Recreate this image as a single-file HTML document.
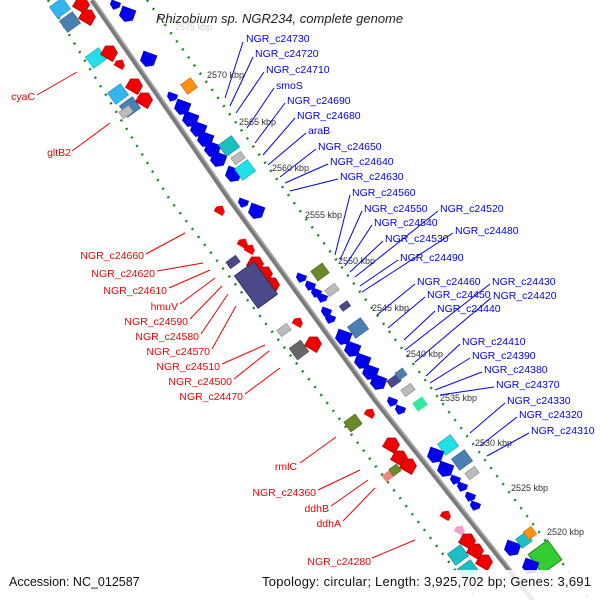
<!DOCTYPE html>
<html><head><meta charset="utf-8"><style>
html,body{margin:0;padding:0;background:#fff}
svg{display:block;font-family:"Liberation Sans","DejaVu Sans",sans-serif}
</style></head><body>
<svg width="600" height="600" viewBox="0 0 600 600" xmlns="http://www.w3.org/2000/svg">
<defs>
<polygon id="pb" points="-7,-7 3,-7 7,0 3,7 -7,7" fill="#0000ee" stroke="#0000aa" stroke-width="0.6"/>
<polygon id="pr" points="-7,-7 3,-7 7,0 3,7 -7,7" fill="#ee0000" stroke="#aa0000" stroke-width="0.6"/>
<polygon id="sb" points="-4,-5 1,-5 5,0 1,5 -4,5" fill="#0000ee"/>
<polygon id="sr" points="-4,-5 1,-5 5,0 1,5 -4,5" fill="#ee0000"/>
<rect id="rc" x="-8" y="-7" width="16" height="14" fill="#22e0e8" stroke="#11a0a8" stroke-width="0.6"/>
<rect id="rt" x="-8" y="-7" width="16" height="14" fill="#1cc0c4" stroke="#108088" stroke-width="0.6"/>
<rect id="rl" x="-8" y="-7" width="16" height="14" fill="#33b5ee" stroke="#2288bb" stroke-width="0.6"/>
<rect id="rs" x="-8" y="-7" width="16" height="14" fill="#4a80b4" stroke="#305a88" stroke-width="0.6"/>
<rect id="rg" x="-6" y="-4" width="12" height="8" fill="#bbbbbb" stroke="#888" stroke-width="0.6"/>
<rect id="rd" x="-7" y="-7" width="14" height="14" fill="#666" stroke="#444" stroke-width="0.6"/>
<rect id="ro" x="-6" y="-6" width="12" height="12" fill="#ff9010" stroke="#c06000" stroke-width="0.6"/>
<rect id="rv" x="-7" y="-6" width="14" height="12" fill="#6a8a2a" stroke="#445a18" stroke-width="0.6"/>
<rect id="rp" x="-6" y="-4" width="12" height="8" fill="#4a4a8a" stroke="#303060" stroke-width="0.6"/>
</defs>

<polyline points="48,0 170,200 325,400 478,600" fill="none" stroke="#1a8a1a" stroke-width="2.5" stroke-dasharray="2 8"/>
<polyline points="147,0 292,200 440,400 590,600" fill="none" stroke="#1a8a1a" stroke-width="2.5" stroke-dasharray="2 8"/>
<polyline points="92,0 230,200 375,400 533,600" fill="none" stroke="#7a7a7a" stroke-width="5"/>
<polyline points="94,0 232,200 377,400 535,600" fill="none" stroke="#b0b0b0" stroke-width="1.2"/>

<g>
<use href="#rl" transform="translate(60,8) rotate(-36)"/>
<use href="#rs" transform="translate(70,22) rotate(-36)"/>
<use href="#pr" transform="translate(82,4) rotate(-60)"/>
<use href="#pr" transform="translate(88,16) rotate(-60)"/>
<use href="#rc" transform="translate(96,58) rotate(-36)"/>
<use href="#pr" transform="translate(110,52) rotate(-60)"/>
<use href="#sr" transform="translate(120,64) rotate(-60)"/>
<use href="#rl" transform="translate(118,94) rotate(-36)"/>
<use href="#rs" transform="translate(130,107) rotate(-36)"/>
<use href="#rg" transform="translate(126,112) rotate(-36)"/>
<use href="#pr" transform="translate(135,85) rotate(-60)"/>
<use href="#pr" transform="translate(145,99) rotate(-60)"/>
<use href="#sr" transform="translate(220,210) rotate(-60)"/>
<use href="#sr" transform="translate(243,243) rotate(-60)"/>
<use href="#sr" transform="translate(250,249) rotate(-60)"/>
<use href="#pr" transform="translate(256,263) rotate(-60)"/>
<use href="#pr" transform="translate(265,273) rotate(-60)"/>
<use href="#pr" transform="translate(272,284) rotate(-60)"/>
<use href="#rp" transform="translate(233,262) rotate(-36)"/>
<rect x="-12" y="-20" width="24" height="40" fill="#4a4a8a" stroke="#303060" transform="translate(256,285) rotate(-36)"/>
<use href="#rg" transform="translate(284,330) rotate(-36)"/>
<use href="#sr" transform="translate(298,322) rotate(-60)"/>
<use href="#rd" transform="translate(299,350) rotate(-36)"/>
<use href="#pr" transform="translate(314,343) rotate(-60)"/>
<use href="#rv" transform="translate(353,423) rotate(-36)"/>
<use href="#sr" transform="translate(370,413) rotate(-60)"/>
<use href="#pr" transform="translate(392,444) rotate(-60)"/>
<use href="#pr" transform="translate(400,457) rotate(-60)"/>
<use href="#pr" transform="translate(409,465) rotate(-60)"/>
<rect x="-5" y="-4" width="10" height="8" fill="#ee8888" transform="translate(388,476) rotate(-36)"/>
<use href="#rv" transform="translate(395,470) rotate(-36) scale(0.7)"/>
<use href="#sr" transform="translate(446,515) rotate(-60)"/>
<polygon points="-4,-5 1,-5 5,0 1,5 -4,5" fill="#f0a0c8" transform="translate(460,530) rotate(-60)"/>
<use href="#pr" transform="translate(468,540) rotate(-60)"/>
<use href="#pr" transform="translate(476,550) rotate(-60)"/>
<use href="#pr" transform="translate(485,561) rotate(-60)"/>
<use href="#rt" transform="translate(458,555) rotate(-36)"/>
<use href="#rt" transform="translate(468,570) rotate(-36)"/>
</g>

<g>
<use href="#sb" transform="translate(115,5) rotate(110)"/>
<use href="#pb" transform="translate(127,15) rotate(110)"/>
<use href="#pb" transform="translate(148,60) rotate(110)"/>
<use href="#ro" transform="translate(189,86) rotate(-36)"/>
<use href="#sb" transform="translate(172,97) rotate(110)"/>
<use href="#pb" transform="translate(182,108) rotate(110)"/>
<use href="#pb" transform="translate(190,120) rotate(110)"/>
<use href="#pb" transform="translate(198,130) rotate(110)"/>
<use href="#pb" transform="translate(205,140) rotate(110)"/>
<use href="#pb" transform="translate(212,150) rotate(110)"/>
<use href="#pb" transform="translate(218,160) rotate(110)"/>
<use href="#pb" transform="translate(233,175) rotate(110)"/>
<use href="#rt" transform="translate(229,146) rotate(-36)"/>
<use href="#rg" transform="translate(238,158) rotate(-36)"/>
<use href="#rc" transform="translate(245,170) rotate(-36)"/>
<use href="#sb" transform="translate(243,203) rotate(110)"/>
<use href="#pb" transform="translate(256,212) rotate(110)"/>
<use href="#rv" transform="translate(320,272) rotate(-36)"/>
<use href="#sb" transform="translate(301,278) rotate(110)"/>
<use href="#sb" transform="translate(310,286) rotate(110)"/>
<use href="#sb" transform="translate(316,293) rotate(110)"/>
<use href="#sb" transform="translate(322,298) rotate(110)"/>
<use href="#rg" transform="translate(332,290) rotate(-36)"/>
<use href="#rp" transform="translate(345,306) rotate(-36) scale(0.8)"/>
<use href="#sb" transform="translate(326,312) rotate(110)"/>
<use href="#sb" transform="translate(330,319) rotate(110)"/>
<use href="#rs" transform="translate(358,328) rotate(-36)"/>
<use href="#pb" transform="translate(343,338) rotate(110)"/>
<use href="#pb" transform="translate(352,350) rotate(110)"/>
<use href="#pb" transform="translate(362,362) rotate(110)"/>
<use href="#pb" transform="translate(370,373) rotate(110)"/>
<use href="#pb" transform="translate(378,383) rotate(110)"/>
<use href="#rp" transform="translate(394,381) rotate(-36)"/>
<use href="#rs" transform="translate(401,374) rotate(-36) scale(0.6)"/>
<use href="#rg" transform="translate(408,390) rotate(-36)"/>
<use href="#sb" transform="translate(392,402) rotate(110)"/>
<use href="#sb" transform="translate(400,410) rotate(110)"/>
<rect x="-6" y="-5" width="12" height="10" fill="#30e8a0" transform="translate(420,404) rotate(-36)"/>
<use href="#rc" transform="translate(448,445) rotate(-36)"/>
<use href="#rs" transform="translate(462,460) rotate(-36)"/>
<use href="#pb" transform="translate(435,456) rotate(110)"/>
<use href="#pb" transform="translate(445,470) rotate(110)"/>
<use href="#sb" transform="translate(455,480) rotate(110)"/>
<use href="#sb" transform="translate(462,487) rotate(110)"/>
<use href="#sb" transform="translate(470,497) rotate(110)"/>
<use href="#sb" transform="translate(475,506) rotate(110)"/>
<use href="#rg" transform="translate(472,473) rotate(-36)"/>
<use href="#pb" transform="translate(512,549) rotate(110)"/>
<use href="#rt" transform="translate(524,540) rotate(-36) scale(0.8)"/>
<use href="#ro" transform="translate(530,533) rotate(-36) scale(0.8)"/>
<rect x="-12" y="-12" width="24" height="24" fill="#33cc33" stroke="#1a8a1a" transform="translate(545,557) rotate(-36)"/>
<use href="#pb" transform="translate(530,567) rotate(110)"/>
</g>

<rect x="0" y="570" width="600" height="30" fill="#fff" opacity="0.85"/>

<g font-size="9" fill="#333">
<text x="175" y="30" fill="#ccc">2575 kbp</text>
<text x="207" y="78">2570 kbp</text>
<text x="239" y="125">2565 kbp</text>
<text x="272" y="171">2560 kbp</text>
<text x="305" y="218">2555 kbp</text>
<text x="338" y="264">2550 kbp</text>
<text x="372" y="311">2545 kbp</text>
<text x="406" y="357">2540 kbp</text>
<text x="440" y="401">2535 kbp</text>
<text x="475" y="446">2530 kbp</text>
<text x="511" y="491">2525 kbp</text>
<text x="547" y="535">2520 kbp</text>
</g>

<g stroke="#0000ee" stroke-width="1">
<line x1="243" y1="42" x2="225" y2="98"/>
<line x1="253" y1="57" x2="230" y2="106"/>
<line x1="264" y1="72" x2="236" y2="113"/>
<line x1="274" y1="88" x2="247" y2="128"/>
<line x1="285" y1="103" x2="255" y2="143"/>
<line x1="295" y1="118" x2="263" y2="155"/>
<line x1="306" y1="133" x2="268" y2="165"/>
<line x1="316" y1="149" x2="280" y2="177"/>
<line x1="328" y1="164" x2="285" y2="183"/>
<line x1="338" y1="179" x2="290" y2="191"/>
<line x1="350" y1="195" x2="335" y2="255"/>
<line x1="362" y1="211" x2="340" y2="260"/>
<line x1="372" y1="225" x2="345" y2="266"/>
<line x1="383" y1="241" x2="350" y2="272"/>
<line x1="438" y1="211" x2="355" y2="277"/>
<line x1="453" y1="233" x2="362" y2="292"/>
<line x1="398" y1="260" x2="360" y2="286"/>
<line x1="415" y1="284" x2="377" y2="315"/>
<line x1="425" y1="297" x2="388" y2="328"/>
<line x1="435" y1="311" x2="404" y2="340"/>
<line x1="490" y1="284" x2="405" y2="350"/>
<line x1="491" y1="298" x2="415" y2="362"/>
<line x1="460" y1="344" x2="426" y2="376"/>
<line x1="470" y1="358" x2="430" y2="383"/>
<line x1="482" y1="372" x2="435" y2="390"/>
<line x1="494" y1="387" x2="440" y2="395"/>
<line x1="505" y1="403" x2="470" y2="433"/>
<line x1="517" y1="417" x2="480" y2="446"/>
<line x1="529" y1="433" x2="487" y2="456"/>
</g>
<g font-size="10.5" fill="#0000ee">
<text x="246" y="42">NGR_c24730</text>
<text x="255" y="57">NGR_c24720</text>
<text x="266" y="73">NGR_c24710</text>
<text x="276" y="89">smoS</text>
<text x="287" y="104">NGR_c24690</text>
<text x="297" y="119">NGR_c24680</text>
<text x="308" y="134">araB</text>
<text x="318" y="150">NGR_c24650</text>
<text x="330" y="165">NGR_c24640</text>
<text x="340" y="180">NGR_c24630</text>
<text x="352" y="196">NGR_c24560</text>
<text x="364" y="212">NGR_c24550</text>
<text x="374" y="226">NGR_c24540</text>
<text x="440" y="212">NGR_c24520</text>
<text x="385" y="242">NGR_c24530</text>
<text x="455" y="234">NGR_c24480</text>
<text x="400" y="261">NGR_c24490</text>
<text x="417" y="285">NGR_c24460</text>
<text x="492" y="285">NGR_c24430</text>
<text x="427" y="298">NGR_c24450</text>
<text x="493" y="299">NGR_c24420</text>
<text x="437" y="312">NGR_c24440</text>
<text x="462" y="345">NGR_c24410</text>
<text x="472" y="359">NGR_c24390</text>
<text x="484" y="373">NGR_c24380</text>
<text x="496" y="388">NGR_c24370</text>
<text x="507" y="404">NGR_c24330</text>
<text x="519" y="418">NGR_c24320</text>
<text x="531" y="434">NGR_c24310</text>
</g>

<g stroke="#ee0000" stroke-width="1">
<line x1="37" y1="95" x2="77" y2="72"/>
<line x1="72" y1="151" x2="110" y2="123"/>
<line x1="146" y1="254" x2="185" y2="233"/>
<line x1="157" y1="271" x2="203" y2="263"/>
<line x1="169" y1="288" x2="210" y2="270"/>
<line x1="180" y1="304" x2="215" y2="278"/>
<line x1="190" y1="319" x2="222" y2="286"/>
<line x1="201" y1="334" x2="228" y2="294"/>
<line x1="212" y1="349" x2="236" y2="306"/>
<line x1="222" y1="364" x2="265" y2="345"/>
<line x1="234" y1="379" x2="269" y2="351"/>
<line x1="245" y1="394" x2="280" y2="368"/>
<line x1="300" y1="463" x2="336" y2="437"/>
<line x1="318" y1="490" x2="360" y2="470"/>
<line x1="331" y1="506" x2="368" y2="480"/>
<line x1="343" y1="521" x2="375" y2="488"/>
<line x1="372" y1="558" x2="415" y2="540"/>
</g>
<g font-size="10.5" fill="#ee0000" text-anchor="end">
<text x="35" y="100">cyaC</text>
<text x="71" y="156">gltB2</text>
<text x="144" y="259">NGR_c24660</text>
<text x="155" y="277">NGR_c24620</text>
<text x="167" y="294">NGR_c24610</text>
<text x="178" y="310">hmuV</text>
<text x="188" y="325">NGR_c24590</text>
<text x="199" y="340">NGR_c24580</text>
<text x="210" y="355">NGR_c24570</text>
<text x="220" y="370">NGR_c24510</text>
<text x="232" y="385">NGR_c24500</text>
<text x="243" y="400">NGR_c24470</text>
<text x="297" y="470">rmlC</text>
<text x="316" y="496">NGR_c24360</text>
<text x="329" y="512">ddhB</text>
<text x="341" y="527">ddhA</text>
<text x="371" y="565">NGR_c24280</text>
</g>

<text x="156" y="23" font-size="13" font-style="italic" fill="#222">Rhizobium sp. NGR234, complete genome</text>
<text x="9" y="586" font-size="12.5" fill="#111">Accession: NC_012587</text>
<text x="262" y="586" font-size="13" fill="#111" textLength="329">Topology: circular; Length: 3,925,702 bp; Genes: 3,691</text>
</svg>
</body></html>
